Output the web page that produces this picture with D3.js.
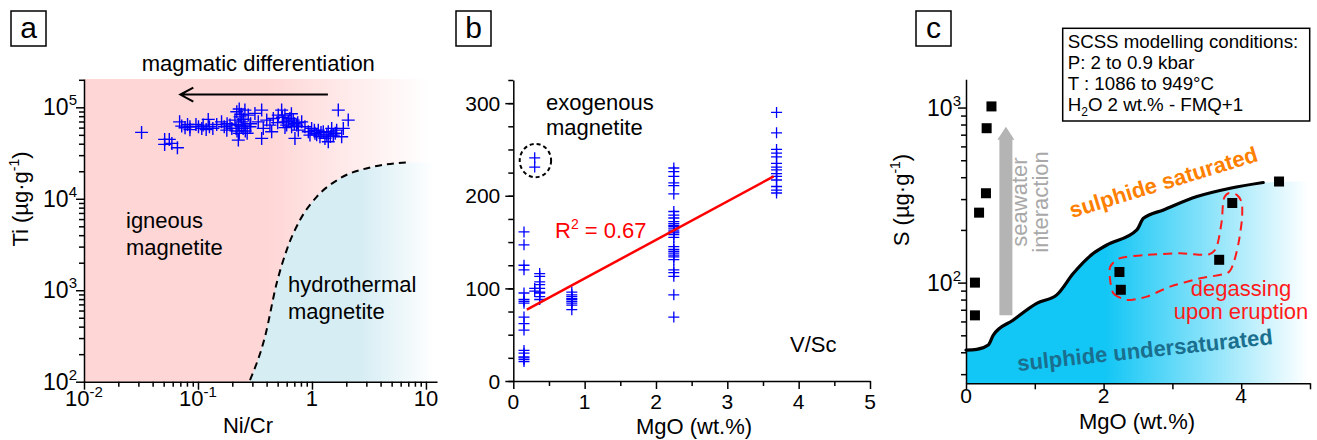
<!DOCTYPE html>
<html>
<head>
<meta charset="utf-8">
<script src="https://cdn.jsdelivr.net/npm/d3@7"></script>
<style>
  body { margin: 0; background: #fff; }
  svg { display: block; font-family: "Liberation Sans", Arial, sans-serif; }
</style>
</head>
<body>
<div id="chart"></div>
<script>
// ---- panel a : Ti vs Ni/Cr ----
var aNiCr = [0.032, 0.051, 0.051, 0.056, 0.059, 0.066, 0.069, 0.072, 0.077, 0.081,
  0.085, 0.096, 0.101, 0.108, 0.111, 0.118, 0.123, 0.126, 0.135, 0.146,
  0.161, 0.170, 0.179, 0.191, 0.198, 0.211, 0.216, 0.219, 0.226, 0.230,
  0.234, 0.242, 0.249, 0.226, 0.258, 0.258, 0.240, 0.250, 0.260, 0.276,
  0.286, 0.316, 0.338, 0.362, 0.362, 0.374, 0.401, 0.428, 0.443, 0.458,
  0.506, 0.542, 0.560, 0.579, 0.600, 0.641, 0.663, 0.685, 0.709, 0.734,
  0.759, 0.812, 0.868, 0.929, 0.960, 0.993, 1.062, 1.136, 1.175, 1.256,
  1.300, 1.390, 1.390, 1.489, 1.538, 1.647, 1.702, 1.822, 1.884, 2.081,
  0.220, 0.240, 0.270, 0.290, 0.550, 0.620, 0.660, 0.700, 0.750, 1.100,
  1.200, 1.450, 1.600, 0.180, 0.085, 0.230, 0.500, 0.580, 1.050, 1.350];
var aTi = [53200, 44600, 39300, 44600, 40300, 36100, 69400, 62300, 59700, 65000,
  61200, 65000, 61200, 58800, 63900, 57300, 73800, 61200, 58800, 65000,
  69400, 61200, 56300, 63900, 58800, 72500, 58800, 89300, 65000, 51900,
  78700, 69400, 58800, 43800, 93200, 63900, 84000, 74000, 55000, 82200,
  61200, 85800, 69400, 93200, 45700, 58800, 72500, 63900, 54000, 75600,
  82200, 93200, 69400, 82200, 63900, 75600, 61200, 72500, 45700, 63900,
  56300, 69400, 61200, 54000, 49700, 58800, 51900, 56300, 47600, 54000,
  45700, 42000, 54000, 58800, 49700, 56300, 93200, 47600, 58800, 72500,
  55000, 62000, 52000, 66000, 78000, 70000, 85000, 66000, 68000, 50000,
  53000, 48000, 52000, 66000, 57000, 96000, 68000, 60000, 56000, 50000];
// igneous / hydrothermal boundary (dashed)
var boundNiCr = [0.286, 0.387, 0.49, 0.60, 0.785, 1.1, 1.76, 3.45, 6.78];
var boundTi = [104, 310, 1190, 2750, 5850, 10500, 16700, 22400, 25000];
var aXTicks = [0.01, 0.1, 1, 10];
var aXLabels = [['10', '-2'], ['10', '-1'], ['1', ''], ['10', '']];
var aYTicks = [100, 1000, 10000, 100000];
var aYLabels = [['10', '2'], ['10', '3'], ['10', '4'], ['10', '5']];
var diffArrowNiCr = [1.38, 0.07];
var diffArrowTi = 138000;

// ---- panel b : V/Sc vs MgO ----
var bMgo = [0.15, 0.30, 0.37, 0.82, 2.25, 3.69];
var bVsc = [
  [161, 147, 125, 120, 95, 88, 86, 84, 69, 62, 55, 33, 30, 26, 25, 23, 21],
  [241, 231, 100, 97],
  [116, 113, 107, 104, 100, 96, 95, 91, 88],
  [96, 93, 91, 89, 88, 86, 84, 82, 77],
  [230, 226, 221, 214, 211, 202, 183, 179, 176, 172, 170, 168, 167, 165, 163, 161,
    160, 158, 155, 145, 142, 140, 138, 136, 134, 131, 120, 117, 113, 93, 69],
  [290, 268, 250, 246, 242, 235, 231, 228, 224, 221, 217, 210, 206, 203]
];
var fitMgo = [0.19, 3.65];
var fitVsc = [77, 221];
var exoMgo = 0.31, exoVsc = 238, exoRx = 0.22, exoRy = 18;
var bXTicks = [0, 1, 2, 3, 4, 5];
var bYTicks = [0, 100, 200, 300];

// ---- panel c : S vs MgO ----
var cMgo = [0.37, 0.30, 0.29, 0.19, 0.13, 0.13, 2.23, 2.25, 3.68, 3.87, 4.55];
var cS = [1015, 762, 324, 251, 100, 65, 115, 91, 135, 285, 378];
var scssMgo = [0, 0.156, 0.324, 0.397, 0.688, 1.028, 1.319, 1.561, 1.852, 2.047,
  2.483, 2.579, 2.87, 3.356, 3.84, 4.32];
var scssS = [41.2, 41.6, 44, 50.2, 61.2, 76.2, 85.1, 113, 147, 164, 200, 233, 260, 310, 346, 373];
var degasMgo = [2.095, 2.143, 2.338, 2.628, 2.967, 3.404, 3.792, 3.888, 3.961, 4.01, 4.01,
  3.937, 3.815, 3.742, 3.719, 3.670, 3.622, 3.5, 3.113, 2.628, 2.24, 2.095];
var degasS = [103.5, 86.9, 79.6, 83.2, 94.8, 105.8, 113.1, 129, 168, 228, 284,
  317, 324, 297, 228, 175, 154, 144, 147, 144, 138, 123];
var seawaterMgo = 0.58, seawaterS = [65, 778];
var cXTicks = [0, 1, 2, 3, 4, 5];
var cXLabels = ['0', '', '2', '', '4', ''];
var cYTicks = [100, 1000];
var cYLabels = [['10', '2'], ['10', '3']];
var infoLines = ['SCSS modelling conditions:', 'P: 2 to 0.9 kbar', 'T : 1086 to 949°C'];

var xA = d3.scaleLog().domain([0.01, 12.5]).range([84, 437]),
    yA = d3.scaleLog().domain([100, 204000]).range([381.7, 79]),
    xB = d3.scaleLinear().domain([0, 5]).range([513.3, 870]),
    yB = d3.scaleLinear().domain([0, 325]).range([381, 80]),
    xC = d3.scaleLinear().domain([0, 5]).range([966, 1310]),
    yC = d3.scaleLog().domain([26.6, 1450]).range([383.3, 79.3]);

var svg = d3.select('#chart').append('svg')
  .attr('width', 1317)
  .attr('height', 440);

var defs = svg.append('defs');

function gradient(id, x1, x2, stops) {
  var g = defs.append('linearGradient')
    .attr('id', id)
    .attr('gradientUnits', 'userSpaceOnUse')
    .attr('x1', x1).attr('x2', x2).attr('y1', 0).attr('y2', 0);
  stops.forEach(function (s) {
    g.append('stop').attr('offset', s[0]).attr('stop-color', s[1]);
  });
}
gradient('pinkFade', 84, 437, [[0, '#ffd6d6'], [0.52, '#ffd6d6'], [0.98, '#ffffff']]);
gradient('blueFade', 360, 434, [[0, '#d6edf4'], [1, '#ffffff']]);
gradient('cyanFade', 1105, 1308, [[0, '#12c6f5'], [1, '#ffffff']]);

function logMinors(lo, hi) {
  var out = [], e, k, v;
  for (e = Math.floor(Math.log10(lo)); e <= Math.ceil(Math.log10(hi)); e += 1) {
    for (k = 2; k <= 9; k += 1) {
      v = k * Math.pow(10, e);
      if (v >= lo && v <= hi) { out.push(v); }
    }
  }
  return out;
}

function axis(gen, x, y, values, size, keepDomain) {
  var g = svg.append('g')
    .attr('transform', 'translate(' + x + ',' + y + ')')
    .call(gen.tickValues(values).tickSize(size).tickSizeOuter(0).tickFormat(''));
  g.selectAll('line, path').attr('stroke', '#000').attr('stroke-width', 1.5);
  if (!keepDomain) { g.select('.domain').remove(); }
  return g;
}

function powLabel(x, y, base, exp, anchor, size) {
  var t = svg.append('text')
    .attr('x', x).attr('y', y)
    .attr('text-anchor', anchor)
    .style('font-size', size + 'px');
  t.append('tspan').text(base);
  if (exp) {
    t.append('tspan').attr('dy', -Math.round(size * 0.42))
      .style('font-size', Math.round(size * 0.66) + 'px').text(exp);
  }
  return t;
}

function text(x, y, str, size, anchor, color) {
  return svg.append('text')
    .attr('x', x).attr('y', y)
    .attr('text-anchor', anchor || 'start')
    .attr('fill', color || '#000')
    .style('font-size', (size || 22) + 'px')
    .text(str);
}

function unitLabel(x, y, name) {
  // rotated "X (µg·g-1)" label
  var t = svg.append('text')
    .attr('transform', 'translate(' + x + ',' + y + ') rotate(-90)')
    .attr('text-anchor', 'middle')
    .style('font-size', '22px');
  t.append('tspan').text(name + ' (µg·g');
  t.append('tspan').attr('dy', -9).style('font-size', '14px').text('-1');
  t.append('tspan').attr('dy', 9).text(')');
}

function panelTag(x, letter) {
  svg.append('rect')
    .attr('x', x).attr('y', 11).attr('width', 35).attr('height', 35)
    .attr('fill', '#fff').attr('stroke', '#000').attr('stroke-width', 1.5);
  text(x + 17.5, 38, letter, 30, 'middle');
}

var cross = 'M-6.5,0H6.5M0,-6.5V6.5',
    crossB = 'M-5.5,0H5.5M0,-5.5V5.5';

// ================= panel a =================
svg.append('rect')
  .attr('x', xA.range()[0]).attr('y', yA.range()[1])
  .attr('width', xA.range()[1] - xA.range()[0])
  .attr('height', yA.range()[0] - yA.range()[1])
  .attr('fill', 'url(#pinkFade)');

var boundPts = boundNiCr.map(function (d, i) { return [xA(d), yA(boundTi[i])]; });
var boundLine = d3.line().curve(d3.curveMonotoneX);
var hydroArea = boundPts.concat([[xA.range()[1], yA(boundTi[boundTi.length - 1])],
  [xA.range()[1], yA.range()[0]], [xA(boundNiCr[0]), yA.range()[0]]]);
svg.append('path')
  .attr('d', boundLine(boundPts) + 'L' + hydroArea.slice(boundPts.length).join('L') + 'Z')
  .attr('fill', 'url(#blueFade)');
svg.append('path')
  .attr('d', boundLine(boundPts))
  .attr('fill', 'none')
  .attr('stroke', '#000')
  .attr('stroke-width', 2)
  .attr('stroke-dasharray', '7,5');

svg.append('g').selectAll('path')
  .data(aNiCr)
  .enter()
  .append('path')
  .attr('d', cross)
  .attr('transform', function (d, i) { return 'translate(' + xA(d) + ',' + yA(aTi[i]) + ')'; })
  .attr('stroke', '#0000ff')
  .attr('stroke-width', 1.4)
  .attr('fill', 'none');

axis(d3.axisLeft(yA), xA.range()[0], 0, aYTicks, 8, true);
axis(d3.axisLeft(yA), xA.range()[0], 0, logMinors(100, 204000), 5, false);
axis(d3.axisBottom(xA), 0, yA.range()[0], aXTicks, 8, true);
axis(d3.axisBottom(xA), 0, yA.range()[0], logMinors(0.01, 12.5), 5, false);

aYTicks.forEach(function (d, i) {
  powLabel(xA.range()[0] - 7, yA(d) + 8, aYLabels[i][0], aYLabels[i][1], 'end', 23);
});
aXTicks.forEach(function (d, i) {
  powLabel(xA(d), 406, aXLabels[i][0], aXLabels[i][1], 'middle', 22);
});

// differentiation arrow
(function () {
  var y = yA(diffArrowTi), x0 = xA(diffArrowNiCr[0]), x1 = xA(diffArrowNiCr[1]);
  svg.append('path')
    .attr('d', 'M' + x0 + ',' + y + 'H' + x1 + 'M' + (x1 + 13) + ',' + (y - 7) +
      'L' + x1 + ',' + y + 'L' + (x1 + 13) + ',' + (y + 7))
    .attr('fill', 'none').attr('stroke', '#000').attr('stroke-width', 2);
})();

text(141.7, 71, 'magmatic differentiation');
text(126, 228, 'igneous');
text(126, 255, 'magnetite');
text(288, 292, 'hydrothermal');
text(288, 319, 'magnetite');
text(248, 433, 'Ni/Cr', 22, 'middle');
unitLabel(28, 199, 'Ti');
panelTag(11, 'a');

// ================= panel b =================
bMgo.forEach(function (m, j) {
  svg.append('g').selectAll('path')
    .data(bVsc[j])
    .enter()
    .append('path')
    .attr('d', crossB)
    .attr('transform', function (d) { return 'translate(' + xB(m) + ',' + yB(d) + ')'; })
    .attr('stroke', '#0000ff')
    .attr('stroke-width', 1.3)
    .attr('fill', 'none');
});

svg.append('path')
  .attr('d', d3.line()(fitMgo.map(function (d, i) { return [xB(d), yB(fitVsc[i])]; })))
  .attr('stroke', '#ff0000')
  .attr('stroke-width', 2.5)
  .attr('fill', 'none');

svg.append('ellipse')
  .attr('cx', xB(exoMgo)).attr('cy', yB(exoVsc))
  .attr('rx', xB(exoMgo + exoRx) - xB(exoMgo))
  .attr('ry', yB(exoVsc - exoRy) - yB(exoVsc))
  .attr('fill', 'none')
  .attr('stroke', '#000')
  .attr('stroke-width', 2)
  .attr('stroke-dasharray', '4,3');

axis(d3.axisLeft(yB), xB.range()[0], 0, bYTicks, 8, true);
axis(d3.axisLeft(yB), xB.range()[0], 0, d3.range(0, 326, 25), 5, false);
axis(d3.axisBottom(xB), 0, yB.range()[0], bXTicks, 8, true);
axis(d3.axisBottom(xB), 0, yB.range()[0], d3.range(0.5, 5, 1), 5, false);

bYTicks.forEach(function (d) {
  text(xB.range()[0] - 13, yB(d) + 7.5, String(d), 21, 'end');
});
bXTicks.forEach(function (d) {
  text(xB(d), 409, String(d), 21, 'middle');
});

(function () {
  var t = svg.append('text').attr('x', 555).attr('y', 238)
    .attr('fill', '#ff0000').style('font-size', '22px');
  t.append('tspan').text('R');
  t.append('tspan').attr('dy', -9).style('font-size', '14px').text('2');
  t.append('tspan').attr('dy', 9).text(' = 0.67');
})();
text(546, 109.5, 'exogenous');
text(546, 134.5, 'magnetite');
text(790, 352, 'V/Sc');
text(694, 434, 'MgO (wt.%)', 22, 'middle');
panelTag(456, 'b');

// ================= panel c =================
var scssPts = scssMgo.map(function (d, i) { return [xC(d), yC(scssS[i])]; });
var scssLine = d3.line().curve(d3.curveMonotoneX);
svg.append('path')
  .attr('d', scssLine(scssPts) + 'L' + xC(5) + ',' + yC(scssS[scssS.length - 1] + 8) +
    'L' + xC(5) + ',' + yC.range()[0] + 'L' + xC(0) + ',' + yC.range()[0] + 'Z')
  .attr('fill', 'url(#cyanFade)');
svg.append('path')
  .attr('d', scssLine(scssPts))
  .attr('fill', 'none')
  .attr('stroke', '#000')
  .attr('stroke-width', 3.2)
  .attr('stroke-linecap', 'round');

// seawater arrow
(function () {
  var x = xC(seawaterMgo), yb = yC(seawaterS[0]), yt = yC(seawaterS[1]);
  svg.append('path')
    .attr('d', 'M' + (x - 6.5) + ',' + yb + 'V' + (yt + 13) + 'H' + (x - 8.5) +
      'L' + x + ',' + yt + 'L' + (x + 8.5) + ',' + (yt + 13) + 'H' + (x + 6.5) + 'V' + yb + 'Z')
    .attr('fill', '#b4b4b4');
})();
svg.append('text')
  .attr('transform', 'translate(1027,202) rotate(-90)')
  .attr('text-anchor', 'middle').attr('fill', '#a8a8a8').style('font-size', '22px')
  .text('seawater');
svg.append('text')
  .attr('transform', 'translate(1048,202) rotate(-90)')
  .attr('text-anchor', 'middle').attr('fill', '#a8a8a8').style('font-size', '22px')
  .text('interaction');

svg.append('path')
  .attr('d', d3.line().curve(d3.curveCardinalClosed.tension(0.3))(
    degasMgo.map(function (d, i) { return [xC(d), yC(degasS[i])]; })))
  .attr('fill', 'none')
  .attr('stroke', '#ff1a1a')
  .attr('stroke-width', 2)
  .attr('stroke-dasharray', '9,6');

svg.append('g').selectAll('rect')
  .data(cMgo)
  .enter()
  .append('rect')
  .attr('x', function (d) { return xC(d) - 5; })
  .attr('y', function (d, i) { return yC(cS[i]) - 5; })
  .attr('width', 10)
  .attr('height', 10)
  .attr('fill', '#000');

axis(d3.axisLeft(yC), xC.range()[0], 0, cYTicks, 8, true);
axis(d3.axisLeft(yC), xC.range()[0], 0, logMinors(26.6, 1450), 5, false);
axis(d3.axisBottom(xC), 0, yC.range()[0], cXTicks, 6, true);

cYTicks.forEach(function (d, i) {
  powLabel(xC.range()[0] - 5, yC(d) + 8, cYLabels[i][0], cYLabels[i][1], 'end', 23);
});
cXTicks.forEach(function (d, i) {
  if (cXLabels[i]) { text(xC(d), 403, cXLabels[i], 21, 'middle'); }
});

svg.append('text')
  .attr('transform', 'translate(1072,218) rotate(-17)')
  .attr('fill', '#ff8000').style('font-size', '22px').style('font-weight', 'bold')
  .text('sulphide saturated');
svg.append('text')
  .attr('transform', 'translate(1018,371) rotate(-6)')
  .attr('fill', '#1a6e8e').style('font-size', '22px').style('font-weight', 'bold')
  .text('sulphide undersaturated');
text(1241, 296, 'degassing', 22, 'middle', '#ff1a1a');
text(1241, 319, 'upon eruption', 22, 'middle', '#ff1a1a');

svg.append('rect')
  .attr('x', 1062.7).attr('y', 28.3).attr('width', 247).attr('height', 92.7)
  .attr('fill', '#fff').attr('stroke', '#000').attr('stroke-width', 1.5);
infoLines.forEach(function (s, i) {
  text(1067.7, 48.3 + i * 20.9, s, 18.7);
});
(function () {
  var t = svg.append('text').attr('x', 1067.7).attr('y', 111)
    .style('font-size', '18.7px');
  t.append('tspan').text('H');
  t.append('tspan').attr('dy', 5).style('font-size', '12px').text('2');
  t.append('tspan').attr('dy', -5).text('O 2 wt.% - FMQ+1');
})();

text(1137, 429, 'MgO (wt.%)', 22, 'middle');
unitLabel(909, 200, 'S');
panelTag(916, 'c');
</script>
</body>
</html>
